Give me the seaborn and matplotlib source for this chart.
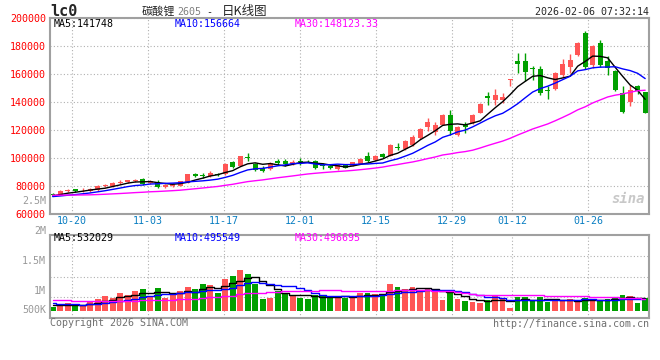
import matplotlib
matplotlib.use('Agg')
import matplotlib.pyplot as plt
import pandas as pd
import seaborn as sns

# daily candles for 碳酸锂2605 (lc0)
dates = ['10-15', '10-16', '10-17', '10-20', '10-21', '10-22', '10-23', '10-24', '10-27', '10-28',
         '10-29', '10-30', '10-31', '11-03', '11-04', '11-05', '11-06', '11-07', '11-10', '11-11',
         '11-12', '11-13', '11-14', '11-17', '11-18', '11-19', '11-20', '11-21', '11-24', '11-25',
         '11-26', '11-27', '11-28', '12-01', '12-02', '12-03', '12-04', '12-05', '12-08', '12-09',
         '12-10', '12-11', '12-12', '12-15', '12-16', '12-17', '12-18', '12-19', '12-22', '12-23',
         '12-24', '12-25', '12-26', '12-29', '12-30', '12-31', '01-05', '01-06', '01-07', '01-08',
         '01-09', '01-12', '01-13', '01-14', '01-15', '01-16', '01-19', '01-20', '01-21', '01-22',
         '01-23', '01-26', '01-27', '01-28', '01-29', '01-30', '02-02', '02-03', '02-04', '02-05']

open_ = [74200, 73400, 76100, 77400, 76600, 76200, 76600, 79900, 79600, 82300,
         82500, 83600, 84700, 81800, 83000, 79000, 79800, 80000, 82100, 88600,
         87800, 86900, 88300, 88100, 97000, 94300, 100500, 95200, 93000, 91900,
         97500, 97500, 95300, 97800, 97800, 97500, 94500, 94000, 92200, 95200,
         94300, 95900, 101500, 98300, 102700, 101600, 107800, 106500, 108800, 114000,
         122200, 118600, 123800, 130400, 116600, 123300, 124800, 132100, 144000, 141100,
         141600, 155600, 169000, 169400, 164300, 163800, 148500, 149400, 159000, 164600,
         173800, 189500, 166600, 182400, 169400, 161900, 146700, 140200, 151100, 147000]
high = [74800, 76800, 78000, 77800, 78300, 78200, 80300, 81200, 82600, 83800,
        84300, 85000, 85800, 83900, 84000, 81200, 82000, 83600, 88400, 89000,
        89300, 90600, 89300, 96300, 97500, 101500, 103300, 96500, 93800, 96800,
        99000, 99000, 98500, 99800, 98700, 98500, 96000, 94500, 95400, 95500,
        97300, 99800, 104000, 102000, 103400, 110000, 110500, 112500, 116300, 121200,
        128600, 125500, 131500, 134000, 123000, 125500, 131500, 139300, 147000, 149000,
        146500, 156200, 174800, 175300, 165400, 166000, 151700, 161500, 171000, 174000,
        183000, 190400, 180600, 184200, 173100, 162500, 151200, 152000, 152400, 147300]
low = [73200, 73200, 75600, 75600, 75700, 75800, 76300, 79000, 79300, 81500,
       82000, 82600, 80200, 81300, 78300, 78600, 79400, 79600, 81800, 86500,
       85400, 86000, 86900, 87800, 93000, 94000, 97900, 90500, 90000, 91000,
       95000, 94300, 94500, 95000, 96700, 92000, 92000, 92000, 91000, 92500,
       93900, 95500, 97000, 98000, 100000, 101200, 105300, 105800, 108300, 113700,
       119000, 116200, 123500, 116400, 115800, 118000, 124000, 131700, 137500, 137500,
       139000, 151700, 161000, 154700, 155800, 145000, 141800, 148500, 156800, 161000,
       173000, 163500, 164500, 165000, 159400, 147800, 132200, 137200, 145500, 132000]
close = [73600, 76400, 77300, 76200, 77000, 77600, 80000, 80400, 82300, 82800,
         83800, 84100, 81000, 83300, 78900, 80600, 81600, 83200, 88100, 86900,
         87300, 89300, 87900, 95900, 93600, 101000, 100000, 91400, 90700, 96200,
         96500, 95900, 97200, 97300, 97400, 93000, 93900, 92600, 94500, 93000,
         96700, 99300, 97700, 101600, 100400, 109500, 107200, 111800, 115000, 120700,
         125400, 123800, 130900, 119000, 122100, 121900, 130500, 138800, 142600, 145200,
         143600, 156000, 167000, 161500, 163300, 146400, 147800, 160900, 167200, 169600,
         182100, 164800, 180000, 166300, 164300, 148300, 132400, 148800, 147600, 132000]
volume = [167000, 236000, 305000, 236000, 195000, 402000, 484000, 608000, 525000, 746000,
          636000, 815000, 897000, 608000, 939000, 525000, 719000, 815000, 981000, 897000,
          1104000, 1063000, 732000, 1311000, 1436000, 1684000, 1518000, 1104000, 484000, 525000,
          815000, 732000, 608000, 525000, 484000, 650000, 608000, 566000, 608000, 539000,
          608000, 746000, 746000, 691000, 608000, 1104000, 981000, 897000, 981000, 815000,
          939000, 897000, 443000, 732000, 484000, 402000, 359000, 318000, 443000, 608000,
          484000, 111000, 567000, 567000, 443000, 567000, 359000, 443000, 443000, 484000,
          359000, 525000, 443000, 443000, 484000, 567000, 650000, 608000, 318000, 525000]

# sessions before the window, only so the moving averages start where the chart shows them
prior_close = [74800, 75200, 75600, 75000, 74600, 74200, 73800, 74400, 75000, 74600,
               74000, 73400, 73000, 72600, 72200, 72600, 73000, 72400, 71800, 71400,
               71800, 72200, 71600, 71200, 71600, 72000, 72400, 72800, 73200]
prior_volume = [560000, 540000, 600000, 520000, 500000, 580000, 620000, 540000, 480000, 520000,
                560000, 500000, 470000, 530000, 490000, 450000, 520000, 480000, 460000, 420000,
                400000, 380000, 360000, 340000, 330000, 300000, 280000, 250000, 240000]

label_dates = ['10-20', '11-03', '11-17', '12-01', '12-15', '12-29', '01-12', '01-26']
price_ticks = [60000, 80000, 100000, 120000, 140000, 160000, 180000, 200000]

df = pd.DataFrame({'date': dates, 'open': open_, 'high': high, 'low': low,
                   'close': close, 'volume': volume})
df['idx'] = range(len(df))
n0 = len(prior_close)
all_close = pd.Series(prior_close + close)
all_vol = pd.Series(prior_volume + volume)
for n in (5, 10, 30):
    df['ma%d' % n] = all_close.rolling(n).mean().iloc[n0:].values
    df['vma%d' % n] = all_vol.rolling(n).mean().iloc[n0:].values

RED, GREEN = '#ff5555', '#00a000'
df['color'] = [RED if c >= o else GREEN for o, c in zip(df['open'], df['close'])]

sns.set_style('white')
plt.rcParams['font.family'] = ['DejaVu Sans Mono', 'Noto Sans CJK SC']

W, H = 660, 360
fig = plt.figure(figsize=(W / 100, H / 100), dpi=100)


def box(l, t, r, b):
    return [l / W, 1 - b / H, (r - l) / W, (b - t) / H]


def put(x, y, s, **kw):
    fig.text(x / W, 1 - y / H, s, va='center', **kw)


ax = fig.add_axes(box(50, 18, 649.3, 213.7))
axv = fig.add_axes(box(50, 235, 649.3, 318.3))

# candles
ax.vlines(df['idx'], df['low'], df['high'], colors=df['color'], lw=1)
body_lo = df[['open', 'close']].min(axis=1)
body_h = (df['close'] - df['open']).abs().clip(lower=600)
ax.bar(df['idx'], body_h, bottom=body_lo, width=0.68, color=df['color'], lw=0)

sns.lineplot(data=df, x='idx', y='ma5', ax=ax, color='black', lw=1)
sns.lineplot(data=df, x='idx', y='ma10', ax=ax, color='#0000ff', lw=1)
sns.lineplot(data=df, x='idx', y='ma30', ax=ax, color='#ff00ff', lw=1)

# volume
axv.bar(df['idx'], df['volume'], width=0.75, color=df['color'], lw=0)
sns.lineplot(data=df, x='idx', y='vma5', ax=axv, color='black', lw=1, drawstyle='steps-mid')
sns.lineplot(data=df, x='idx', y='vma10', ax=axv, color='#0000ff', lw=1, drawstyle='steps-mid')
sns.lineplot(data=df, x='idx', y='vma30', ax=axv, color='#ff00ff', lw=1, drawstyle='steps-mid')

# the date gridlines sit a little off the candles on the sina chart
grid_x = [dates.index(d) * 1.0118 - 0.43 for d in label_dates]

for a in (ax, axv):
    a.set_xlim(-0.36, 79.55)
    a.set_xlabel('')
    a.set_ylabel('')
    for s in a.spines.values():
        s.set_color('#a0a0a0')
        s.set_linewidth(1.5)
    a.grid(True, color='#b0b0b0', lw=0.8, ls=(0, (1, 2)))
    a.tick_params(length=0)

ax.set_ylim(60000, 200000)
ax.set_yticks(price_ticks, labels=[str(v) for v in price_ticks])
ax.tick_params(axis='y', colors='#ff0000', labelsize=7.2, pad=3)
ax.set_xticks(grid_x, labels=label_dates)
ax.tick_params(axis='x', colors='#0a7ec2', labelsize=7.2, pad=2)

vlo, vhi = -314000, 3128000
axv.set_ylim(vlo, vhi)
axv.set_yticks([vlo + (vhi - vlo) * k / 4 for k in (1, 2, 3)], labels=[])
axv.set_xticks(grid_x, labels=[])

# header
put(50, 11.7, 'lc0', fontsize=11, fontweight='bold', ha='left')
put(141.7, 11.7, '碳酸锂', fontsize=8, family='Noto Sans CJK SC', ha='left')
put(177.5, 12.3, '2605', fontsize=7.2, color='#808080', ha='left')
put(209.5, 11.7, '-', fontsize=7.2, ha='center')
put(221.7, 11.7, '日K线图', fontsize=9, family='Noto Sans CJK SC', ha='left')
put(649, 12, '2026-02-06 07:32:14', fontsize=7.2, ha='right')

put(54, 24, 'MA5:141748', fontsize=7.2, color='black', ha='left')
put(174.3, 24, 'MA10:156664', fontsize=7.2, color='#0000ff', ha='left')
put(295, 24, 'MA30:148123.33', fontsize=7.2, color='#ff00ff', ha='left')
put(46, 200.7, '2.5M', fontsize=7.2, color='#999999', ha='right')
put(645, 199, 'sina', fontsize=10, color='#c8c8c8', fontweight='bold', style='italic', ha='right')

put(54, 238.3, 'MA5:532029', fontsize=7.2, color='black', ha='left')
put(174.3, 238.3, 'MA10:495549', fontsize=7.2, color='#0000ff', ha='left')
put(295, 238.3, 'MA30:496695', fontsize=7.2, color='#ff00ff', ha='left')
for y, s in [(231, '2M'), (260.7, '1.5M'), (290.7, '1M'), (310, '500K')]:
    put(46, y, s, fontsize=7.2, color='#999999', ha='right')

put(50, 323.5, 'Copyright 2026 SINA.COM', fontsize=7.2, color='#707070', ha='left')
put(649, 324, 'http://finance.sina.com.cn', fontsize=7.2, color='#707070', ha='right')

fig.savefig('out.png', dpi=100)
